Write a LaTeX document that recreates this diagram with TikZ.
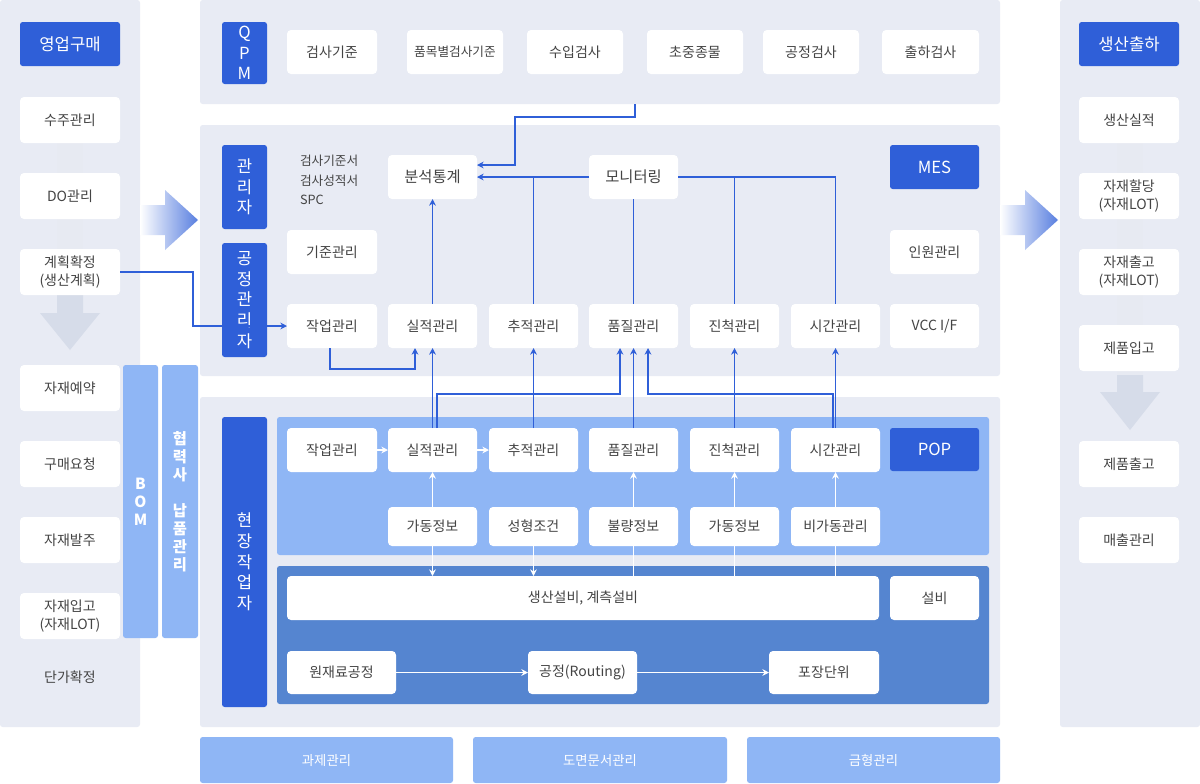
\documentclass[tikz,border=0pt]{standalone}
\usepackage{fontspec}
\setmainfont{Noto Sans CJK KR}
\usetikzlibrary{arrows.meta}
\definecolor{panelgray}{HTML}{E8EBF4}
\definecolor{mainblue}{HTML}{2F5FD8}
\definecolor{lightblue}{HTML}{8FB6F5}
\definecolor{midblue}{HTML}{5585D0}
\definecolor{txtgray}{HTML}{444444}
\definecolor{arrowgray}{HTML}{D6DCE9}
\newcommand\bx[7]{\node[#6, minimum width={(#4-#2)*0.75pt}, minimum height={(#5-#3)*0.75pt}] (#1) at ({(#2+#4)/2},{(#3+#5)/2}) {#7};}
\begin{document}
\begin{tikzpicture}[x=0.75pt, y=-0.75pt,
  every node/.style={inner sep=0pt, outer sep=0pt, font=\fontsize{10.5}{13}\selectfont, align=center},
  panel/.style={rectangle, rounded corners=2pt, fill=panelgray},
  titlebox/.style={rectangle, rounded corners=2pt, fill=mainblue, text=white, font=\fontsize{12.5}{15.5}\selectfont},
  item/.style={rectangle, rounded corners=3pt, fill=white, text=txtgray},
  bar/.style={rectangle, rounded corners=2pt, fill=lightblue, text=white, font=\fontsize{11.5}{13.5}\selectfont\bfseries},
  conn/.style={draw=mainblue, line width=0.8pt, -{Stealth[length=5pt,width=5pt]}},
  line/.style={draw=mainblue, line width=0.8pt},
  wconn/.style={draw=white, line width=0.8pt, -{Stealth[length=5pt,width=5pt]}},
  wline/.style={draw=white, line width=0.8pt},
  ]
\useasboundingbox (0,0) rectangle (1200,783);
\fill[white] (0,0) rectangle (1200,783);
%Panels
\bx{left}{0}{0}{140}{727}{panel}{}
\bx{right}{1060}{0}{1200}{727}{panel}{}
\bx{qpmp}{200}{0}{1000}{104}{panel}{}
\bx{mesp}{200}{125}{1000}{376}{panel}{}
\bx{popp}{200}{397}{1000}{727}{panel}{}
\bx{popa}{277}{417}{989}{555}{rectangle, rounded corners=2pt, fill=lightblue}{}
\bx{eqa}{277}{566}{989}{704}{rectangle, rounded corners=2pt, fill=midblue}{}
%Big arrows
\shade[left color=white, right color=mainblue!80] (140,205) -- (165,205) -- (165,190) -- (198,220) -- (165,250) -- (165,235) -- (140,235) -- cycle;
\shade[left color=white, right color=mainblue!80] (1000,205) -- (1025,205) -- (1025,190) -- (1058,220) -- (1025,250) -- (1025,235) -- (1000,235) -- cycle;
\fill[arrowgray!60] (57,143) rectangle (83,300);
\fill[arrowgray] (57,295) -- (83,295) -- (83,313) -- (100,313) -- (70,350) -- (40,313) -- (57,313) -- cycle;
\fill[arrowgray!60] (1117,143) rectangle (1143,375);
\fill[arrowgray] (1117,375) -- (1143,375) -- (1143,392) -- (1160,392) -- (1130,430) -- (1100,392) -- (1117,392) -- cycle;
%Left column
\bx{sales}{20}{22}{120}{66}{titlebox}{영업구매}
\bx{order}{20}{97}{120}{143}{item}{수주관리}
\bx{domgmt}{20}{173}{120}{219}{item}{DO관리}
\bx{plan}{20}{249}{120}{295}{item}{계획확정\\(생산계획)}
\bx{reserve}{20}{365}{120}{411}{item}{자재예약}
\bx{purreq}{20}{441}{120}{487}{item}{구매요청}
\bx{matord}{20}{517}{120}{563}{item}{자재발주}
\bx{matin}{20}{593}{120}{639}{item}{자재입고\\(자재LOT)}
\node[text=txtgray] (price) at (70,677) {단가확정};
\bx{bom}{123}{365}{158}{638}{bar}{B\\O\\M}
\bx{partner}{162}{365}{198}{638}{bar}{협\\력\\사\\ \\납\\품\\관\\리}
%Right column
\bx{prod}{1079}{22}{1179}{66}{titlebox}{생산출하}
\bx{result}{1079}{97}{1179}{143}{item}{생산실적}
\bx{alloc}{1079}{173}{1179}{219}{item}{자재할당\\(자재LOT)}
\bx{matout}{1079}{249}{1179}{295}{item}{자재출고\\(자재LOT)}
\bx{prodin}{1079}{325}{1179}{371}{item}{제품입고}
\bx{prodout}{1079}{441}{1179}{487}{item}{제품출고}
\bx{sales2}{1079}{517}{1179}{563}{item}{매출관리}
%QPM
\bx{qpm}{222}{22}{267}{84}{titlebox}{Q\\P\\M}
\bx{q1}{287}{30}{377}{74}{item}{검사기준}
\bx{q2}{407}{30}{503}{74}{item}{\fontsize{9.5}{12}\selectfont 품목별검사기준}
\bx{q3}{527}{30}{623}{74}{item}{수입검사}
\bx{q4}{647}{30}{743}{74}{item}{초중종물}
\bx{q5}{763}{30}{859}{74}{item}{공정검사}
\bx{q6}{882}{30}{979}{74}{item}{출하검사}
%MES
\bx{admin}{222}{145}{267}{229}{titlebox}{관\\리\\자}
\bx{procadmin}{222}{243}{267}{357}{titlebox}{공\\정\\관\\리\\자}
\bx{mes}{890}{145}{979}{189}{titlebox}{MES}
\node[text=txtgray, align=left, anchor=west, font=\fontsize{9.5}{14.5}\selectfont] (docs) at (300,180) {검사기준서\\검사성적서\\SPC};
\bx{stat}{388}{155}{477}{199}{item}{\fontsize{11.5}{14}\selectfont 분석통계}
\bx{monitor}{589}{155}{678}{199}{item}{\fontsize{11.5}{14}\selectfont 모니터링}
\bx{stdm}{287}{230}{377}{274}{item}{기준관리}
\bx{staff}{890}{230}{979}{274}{item}{인원관리}
\bx{mwork}{287}{304}{377}{348}{item}{작업관리}
\bx{mperf}{388}{304}{477}{348}{item}{실적관리}
\bx{mtrace}{489}{304}{578}{348}{item}{추적관리}
\bx{mqual}{589}{304}{678}{348}{item}{품질관리}
\bx{mprog}{690}{304}{779}{348}{item}{진척관리}
\bx{mtime}{791}{304}{880}{348}{item}{시간관리}
\bx{vcc}{890}{304}{979}{348}{item}{VCC I/F}
%POP
\bx{worker}{222}{417}{267}{707}{titlebox}{현\\장\\작\\업\\자}
\bx{pop}{890}{428}{979}{471}{titlebox}{POP}
\bx{pwork}{287}{428}{377}{472}{item}{작업관리}
\bx{pperf}{388}{428}{477}{472}{item}{실적관리}
\bx{ptrace}{489}{428}{578}{472}{item}{추적관리}
\bx{pqual}{589}{428}{678}{472}{item}{품질관리}
\bx{pprog}{690}{428}{779}{472}{item}{진척관리}
\bx{ptime}{791}{428}{880}{472}{item}{시간관리}
\bx{run1}{388}{507}{477}{546}{item}{가동정보}
\bx{mold}{489}{507}{578}{546}{item}{성형조건}
\bx{defect}{589}{507}{678}{546}{item}{불량정보}
\bx{run2}{690}{507}{779}{546}{item}{가동정보}
\bx{idle}{791}{507}{880}{546}{item}{비가동관리}
\bx{equip}{287}{576}{879}{620}{item}{생산설비, 계측설비}
\bx{equip2}{890}{576}{979}{620}{item}{설비}
\bx{raw}{287}{651}{396}{694}{item}{원재료공정}
\bx{routing}{528}{651}{637}{694}{item}{공정(Routing)}
\bx{pack}{769}{651}{879}{694}{item}{포장단위}
%Bottom bars
\bx{task}{200}{737}{453}{783}{bar}{\fontsize{10}{12}\selectfont\mdseries 과제관리}
\bx{drawing}{473}{737}{727}{783}{bar}{\fontsize{10}{12}\selectfont\mdseries 도면문서관리}
\bx{mold2}{747}{737}{1000}{783}{bar}{\fontsize{10}{12}\selectfont\mdseries 금형관리}
%Lines
\coordinate (qpmb) at (635,104);
\draw[conn] (qpmb) -- (635,117) -- (515,117) -- (515,165) -- (stat.east |- 0,165);
\draw[conn] (monitor.west) -- (stat.east);
\draw[line] (mtrace.north) -- (mtrace.north |- monitor.west);
\draw[line] (monitor.south) -- (mqual.north);
\draw[line] (monitor.east) -- (mtime.north |- monitor.east) -- (mtime.north);
\draw[line] (mprog.north |- monitor.east) -- (mprog.north);
\draw[conn] (mperf.north) -- (stat.south);
\draw[conn] (plan.east) -- (193,272) -- (193,326) -- (mwork.west);
\draw[conn] (330,348) -- (330,369) -- (415,369) -- (415,348);
\draw[conn] (pperf.north) -- (mperf.south);
\draw[conn] (437,428) -- (437,394) -- (620,394) -- (620,348);
\draw[conn] (pqual.north) -- (mqual.south);
\draw[conn] (ptrace.north) -- (mtrace.south);
\draw[conn] (pprog.north) -- (mprog.south);
\draw[conn] (ptime.north) -- (mtime.south);
\draw[conn] (833,428) -- (833,394) -- (648,394) -- (648,348);
\draw[wconn] (pwork.east) -- (pperf.west);
\draw[wconn] (pperf.east) -- (ptrace.west);
\draw[wconn] (run1.north) -- (pperf.south);
\draw[wconn] (defect.north) -- (pqual.south);
\draw[wconn] (run2.north) -- (pprog.south);
\draw[wconn] (idle.north) -- (ptime.south);
\draw[wconn] (run1.south) -- (run1.south |- equip.north);
\draw[wconn] (mold.south) -- (mold.south |- equip.north);
\draw[wline] (defect.south) -- (defect.south |- equip.north);
\draw[wline] (run2.south) -- (run2.south |- equip.north);
\draw[wline] (idle.south) -- (idle.south |- equip.north);
\draw[wconn] (raw.east) -- (routing.west);
\draw[wconn] (routing.east) -- (pack.west);
\end{tikzpicture}
\end{document}
